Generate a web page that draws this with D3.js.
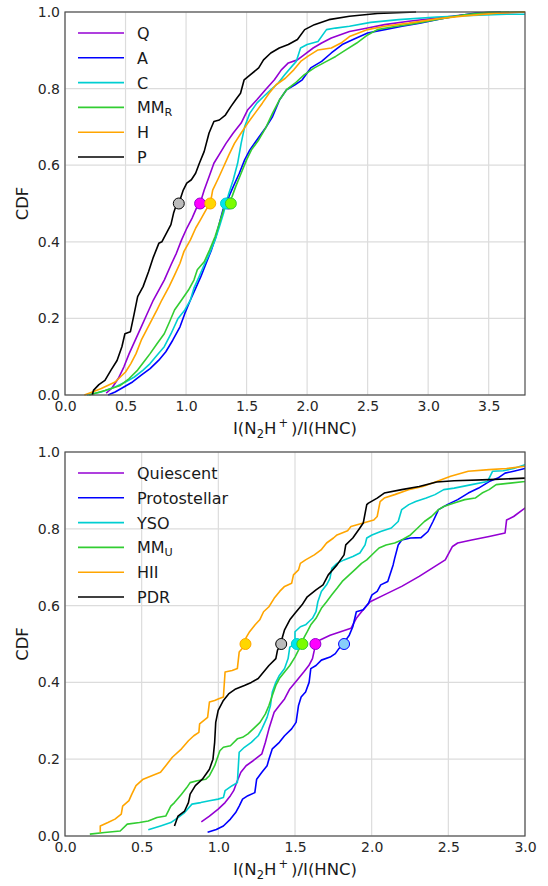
<!DOCTYPE html>
<html>
<head>
<meta charset="utf-8">
<script src="https://cdn.jsdelivr.net/npm/d3@7"></script>
<style>
  body { margin: 0; background: #fff; }
  svg { font-family: "DejaVu Sans", sans-serif; }
</style>
</head>
<body>
<svg id="chart" width="548" height="886"></svg>
<script>
// ---- top panel: Q, A, C, MM_R, H, P  ([ratio, cdf] pairs)
const topQ = [[0.34,0.005],[0.385,0.017],[0.44,0.043],[0.486,0.073],[0.53,0.108],[0.587,0.148],[0.63,0.178],[0.674,0.209],[0.73,0.248],[0.775,0.274],[0.82,0.30],[0.876,0.34],[0.92,0.37],[0.963,0.405],[1.007,0.436],[1.05,0.462],[1.093,0.493],[1.116,0.50],[1.15,0.535],[1.19,0.57],[1.23,0.605],[1.28,0.631],[1.33,0.657],[1.39,0.684],[1.455,0.71],[1.51,0.745],[1.585,0.771],[1.656,0.797],[1.73,0.823],[1.787,0.849],[1.845,0.867],[1.92,0.875],[1.975,0.888],[2.05,0.906],[2.12,0.919],[2.2,0.932],[2.35,0.949],[2.5,0.958],[2.64,0.967],[2.84,0.976],[3.07,0.984],[3.3,0.993],[3.57,0.997],[3.8,1.0]];
const topA = [[0.356,0.0],[0.414,0.008],[0.486,0.021],[0.558,0.034],[0.63,0.052],[0.703,0.069],[0.775,0.091],[0.833,0.113],[0.89,0.143],[0.95,0.178],[0.99,0.213],[1.036,0.248],[1.08,0.279],[1.122,0.309],[1.166,0.344],[1.21,0.379],[1.247,0.414],[1.276,0.449],[1.305,0.484],[1.325,0.498],[1.354,0.518],[1.39,0.544],[1.44,0.579],[1.484,0.614],[1.527,0.64],[1.585,0.666],[1.656,0.697],[1.715,0.727],[1.773,0.771],[1.83,0.797],[1.90,0.81],[1.96,0.823],[2.03,0.854],[2.12,0.871],[2.2,0.893],[2.29,0.915],[2.38,0.928],[2.5,0.945],[2.64,0.954],[2.785,0.963],[2.93,0.971],[3.1,0.982],[3.25,0.99],[3.39,0.997],[3.6,1.0]];
const topC = [[0.18,0.0],[0.30,0.008],[0.414,0.021],[0.50,0.034],[0.573,0.047],[0.645,0.065],[0.703,0.082],[0.76,0.104],[0.82,0.126],[0.876,0.16],[0.934,0.20],[0.99,0.222],[1.036,0.248],[1.065,0.279],[1.108,0.309],[1.15,0.34],[1.195,0.37],[1.24,0.405],[1.276,0.44],[1.31,0.475],[1.33,0.50],[1.354,0.527],[1.39,0.562],[1.426,0.605],[1.455,0.657],[1.484,0.70],[1.527,0.736],[1.585,0.762],[1.643,0.78],[1.70,0.797],[1.76,0.814],[1.815,0.836],[1.874,0.858],[1.91,0.871],[1.946,0.906],[2.0,0.915],[2.09,0.923],[2.16,0.954],[2.235,0.958],[2.35,0.963],[2.525,0.973],[2.757,0.98],[3.07,0.987],[3.36,0.991],[3.65,0.994],[3.8,0.994]];
const topMM = [[0.2,0.0],[0.33,0.012],[0.457,0.025],[0.53,0.043],[0.60,0.065],[0.66,0.09],[0.703,0.108],[0.76,0.134],[0.82,0.16],[0.862,0.19],[0.905,0.222],[0.963,0.248],[1.02,0.274],[1.065,0.30],[1.093,0.327],[1.15,0.348],[1.195,0.379],[1.24,0.414],[1.276,0.449],[1.31,0.484],[1.34,0.498],[1.38,0.518],[1.41,0.544],[1.455,0.579],[1.50,0.614],[1.54,0.64],[1.60,0.666],[1.657,0.697],[1.715,0.736],[1.773,0.771],[1.83,0.797],[1.90,0.814],[1.975,0.836],[2.06,0.854],[2.16,0.871],[2.236,0.884],[2.32,0.901],[2.41,0.919],[2.5,0.94],[2.58,0.954],[2.70,0.961],[2.87,0.969],[3.1,0.982],[3.3,0.993],[3.5,0.999],[3.8,1.0]];
const topH = [[0.16,0.0],[0.226,0.008],[0.30,0.017],[0.414,0.034],[0.50,0.06],[0.544,0.082],[0.587,0.108],[0.63,0.143],[0.674,0.17],[0.717,0.196],[0.76,0.222],[0.80,0.248],[0.86,0.283],[0.905,0.313],[0.95,0.344],[0.983,0.375],[1.036,0.405],[1.08,0.436],[1.12,0.458],[1.166,0.484],[1.20,0.50],[1.22,0.535],[1.267,0.566],[1.31,0.596],[1.354,0.627],[1.40,0.657],[1.455,0.684],[1.51,0.71],[1.57,0.736],[1.63,0.762],[1.686,0.788],[1.744,0.81],[1.82,0.827],[1.89,0.849],[1.947,0.871],[2.005,0.884],[2.09,0.901],[2.2,0.906],[2.28,0.919],[2.35,0.936],[2.5,0.954],[2.64,0.963],[2.84,0.971],[3.07,0.982],[3.3,0.99],[3.57,0.997],[3.8,1.0]];
const topP = [[0.226,0.0],[0.235,0.012],[0.28,0.027],[0.33,0.038],[0.38,0.065],[0.43,0.09],[0.47,0.126],[0.495,0.16],[0.54,0.165],[0.57,0.21],[0.60,0.257],[0.645,0.283],[0.69,0.322],[0.73,0.36],[0.775,0.396],[0.80,0.40],[0.85,0.43],[0.875,0.445],[0.897,0.475],[0.92,0.497],[0.94,0.50],[0.977,0.535],[1.006,0.553],[1.044,0.562],[1.079,0.579],[1.11,0.605],[1.15,0.636],[1.19,0.684],[1.23,0.714],[1.275,0.718],[1.325,0.731],[1.37,0.753],[1.41,0.771],[1.45,0.788],[1.48,0.823],[1.53,0.836],[1.60,0.854],[1.64,0.875],[1.70,0.893],[1.77,0.906],[1.845,0.915],[1.92,0.928],[1.98,0.954],[2.06,0.967],[2.18,0.98],[2.35,0.989],[2.58,0.996],[2.90,1.0]];
const topLabels = ["Q", "A", "C", "MM|R", "H", "P"];
const topMedians = [1.116, 1.35, 1.33, 1.37, 1.20, 0.94];

// ---- bottom panel: Quiescent, Protostellar, YSO, MM_U, HII, PDR
const botQui = [[0.889,0.037],[0.942,0.052],[0.999,0.07],[1.044,0.087],[1.079,0.105],[1.10,0.118],[1.124,0.144],[1.147,0.166],[1.181,0.183],[1.227,0.196],[1.284,0.214],[1.307,0.244],[1.33,0.279],[1.364,0.322],[1.398,0.34],[1.432,0.357],[1.466,0.383],[1.512,0.405],[1.557,0.427],[1.59,0.444],[1.614,0.462],[1.626,0.484],[1.633,0.50],[1.66,0.51],[1.729,0.523],[1.797,0.532],[1.865,0.541],[1.90,0.567],[1.934,0.584],[1.99,0.61],[2.082,0.628],[2.196,0.65],[2.31,0.676],[2.413,0.702],[2.48,0.719],[2.527,0.754],[2.561,0.763],[2.652,0.771],[2.766,0.78],[2.87,0.789],[2.88,0.823],[2.926,0.832],[3.0,0.854],[3.1,0.88]];
const botPro = [[0.93,0.010],[0.987,0.017],[1.033,0.026],[1.079,0.044],[1.113,0.061],[1.136,0.078],[1.158,0.096],[1.193,0.105],[1.238,0.113],[1.25,0.148],[1.284,0.166],[1.318,0.183],[1.33,0.20],[1.352,0.227],[1.398,0.244],[1.432,0.261],[1.478,0.279],[1.507,0.296],[1.523,0.34],[1.54,0.362],[1.569,0.375],[1.592,0.40],[1.603,0.436],[1.637,0.444],[1.672,0.458],[1.729,0.466],[1.763,0.475],[1.786,0.488],[1.82,0.50],[1.831,0.51],[1.854,0.523],[1.877,0.545],[1.90,0.584],[1.945,0.589],[1.979,0.606],[2.002,0.628],[2.036,0.637],[2.059,0.654],[2.105,0.663],[2.14,0.706],[2.15,0.723],[2.173,0.758],[2.196,0.771],[2.253,0.776],[2.322,0.777],[2.367,0.793],[2.40,0.819],[2.436,0.85],[2.493,0.863],[2.561,0.876],[2.63,0.893],[2.698,0.906],[2.766,0.923],[2.823,0.932],[2.87,0.945],[2.926,0.95],[3.0,0.957],[3.1,0.965]];
const botYSO = [[0.543,0.016],[0.623,0.026],[0.69,0.035],[0.737,0.048],[0.78,0.061],[0.828,0.083],[0.885,0.087],[0.942,0.092],[0.999,0.096],[1.033,0.10],[1.044,0.118],[1.09,0.131],[1.124,0.139],[1.136,0.218],[1.17,0.231],[1.215,0.244],[1.26,0.261],[1.284,0.279],[1.318,0.309],[1.34,0.34],[1.352,0.375],[1.375,0.40],[1.398,0.418],[1.432,0.436],[1.455,0.462],[1.466,0.492],[1.50,0.50],[1.50,0.532],[1.535,0.545],[1.569,0.55],[1.59,0.558],[1.614,0.567],[1.637,0.584],[1.649,0.61],[1.672,0.637],[1.706,0.654],[1.728,0.671],[1.74,0.697],[1.774,0.71],[1.82,0.719],[1.877,0.728],[1.923,0.737],[1.957,0.758],[1.968,0.776],[2.002,0.784],[2.059,0.793],[2.128,0.802],[2.173,0.819],[2.196,0.85],[2.242,0.863],[2.287,0.871],[2.356,0.88],[2.413,0.889],[2.47,0.902],[2.538,0.906],[2.652,0.915],[2.755,0.923],[2.789,0.95],[2.857,0.951],[2.926,0.957],[3.0,0.967],[3.1,0.975]];
const botMM = [[0.162,0.005],[0.258,0.009],[0.36,0.013],[0.406,0.031],[0.486,0.035],[0.543,0.039],[0.60,0.048],[0.657,0.052],[0.69,0.078],[0.714,0.087],[0.76,0.109],[0.794,0.126],[0.816,0.139],[0.862,0.144],[0.919,0.148],[0.942,0.157],[0.976,0.183],[1.01,0.222],[1.033,0.231],[1.079,0.235],[1.124,0.253],[1.158,0.257],[1.193,0.266],[1.238,0.283],[1.272,0.296],[1.307,0.318],[1.33,0.34],[1.352,0.366],[1.375,0.392],[1.398,0.41],[1.432,0.427],[1.466,0.444],[1.50,0.466],[1.523,0.484],[1.548,0.50],[1.557,0.515],[1.58,0.532],[1.603,0.55],[1.637,0.567],[1.672,0.593],[1.706,0.61],[1.74,0.628],[1.774,0.645],[1.808,0.663],[1.854,0.68],[1.90,0.697],[1.934,0.71],[1.968,0.719],[2.014,0.737],[2.048,0.75],[2.094,0.758],[2.15,0.763],[2.196,0.771],[2.253,0.784],[2.30,0.802],[2.344,0.819],[2.39,0.832],[2.436,0.85],[2.47,0.858],[2.538,0.867],[2.607,0.876],[2.675,0.88],[2.72,0.893],[2.766,0.902],[2.812,0.915],[2.903,0.919],[3.0,0.923],[3.1,0.93]];
const botHII = [[0.23,0.010],[0.23,0.026],[0.28,0.035],[0.326,0.044],[0.367,0.057],[0.376,0.078],[0.417,0.092],[0.436,0.109],[0.463,0.131],[0.51,0.148],[0.566,0.157],[0.623,0.166],[0.657,0.183],[0.70,0.205],[0.76,0.227],[0.805,0.248],[0.84,0.261],[0.873,0.27],[0.878,0.292],[0.93,0.309],[0.942,0.349],[0.976,0.353],[0.999,0.357],[1.033,0.362],[1.044,0.427],[1.09,0.431],[1.124,0.436],[1.136,0.479],[1.16,0.49],[1.177,0.50],[1.18,0.516],[1.204,0.532],[1.24,0.55],[1.27,0.563],[1.295,0.584],[1.33,0.597],[1.364,0.619],[1.40,0.637],[1.432,0.65],[1.478,0.658],[1.49,0.68],[1.523,0.693],[1.535,0.71],[1.569,0.719],[1.626,0.732],[1.67,0.745],[1.706,0.763],[1.751,0.776],[1.774,0.784],[1.843,0.795],[1.865,0.806],[1.945,0.815],[2.014,0.823],[2.036,0.832],[2.055,0.871],[2.082,0.88],[2.15,0.889],[2.24,0.902],[2.333,0.91],[2.424,0.923],[2.515,0.937],[2.63,0.95],[2.766,0.954],[2.88,0.957],[3.0,0.963],[3.1,0.97]];
const botPDR = [[0.714,0.026],[0.737,0.052],[0.78,0.065],[0.805,0.087],[0.816,0.109],[0.85,0.131],[0.896,0.148],[0.942,0.174],[0.965,0.20],[0.976,0.244],[0.983,0.296],[0.999,0.327],[1.033,0.353],[1.067,0.37],[1.113,0.383],[1.17,0.392],[1.215,0.40],[1.26,0.41],[1.295,0.427],[1.33,0.444],[1.375,0.462],[1.386,0.484],[1.41,0.50],[1.416,0.515],[1.432,0.537],[1.466,0.563],[1.50,0.58],[1.546,0.602],[1.58,0.623],[1.637,0.641],[1.683,0.654],[1.717,0.68],[1.774,0.706],[1.82,0.732],[1.831,0.758],[1.877,0.776],[1.923,0.802],[1.945,0.815],[1.968,0.863],[1.979,0.867],[2.036,0.88],[2.082,0.893],[2.196,0.902],[2.31,0.91],[2.424,0.922],[2.538,0.925],[2.766,0.928],[3.0,0.932],[3.1,0.934]];
const botLabels = ["Quiescent", "Protostellar", "YSO", "MM|U", "HII", "PDR"];
const botMedians = [1.633, 1.82, 1.512, 1.548, 1.177, 1.41];

const xTicksTop = [0, 0.5, 1, 1.5, 2, 2.5, 3, 3.5];
const xTicksBot = [0, 0.5, 1, 1.5, 2, 2.5, 3];
const yTicks = [0, 0.2, 0.4, 0.6, 0.8, 1.0];

const lineColors = ["#9400d3", "#0000ff", "#00ced1", "#32cd32", "#ffa500", "#000000"];
const dotColors = ["#ff00ff", "#87cefa", "#00e5ee", "#7cfc00", "#ffd700", "#bbbbbb"];

const svg = d3.select("#chart");

function addLabelText(sel, label, size) {
  // "MM|R" -> MM with subscript R
  const parts = label.split("|");
  sel.append("tspan").text(parts[0]);
  if (parts[1]) {
    sel.append("tspan").attr("font-size", size * 0.7).attr("dy", 3).text(parts[1]);
  }
}

function drawPanel(id, top, bottom, xmax, xticks, series, labels, medians) {
  const left = 65, right = 525;
  const x = d3.scaleLinear().domain([0, xmax]).range([left, right]);
  const y = d3.scaleLinear().domain([0, 1]).range([bottom, top]);
  const g = svg.append("g");

  g.append("clipPath").attr("id", "clip" + id)
    .append("rect").attr("x", left).attr("y", top - 3)
    .attr("width", right - left).attr("height", bottom - top + 6);

  // grid
  g.append("g").selectAll("line").data(xticks).join("line")
    .attr("x1", d => x(d)).attr("x2", d => x(d))
    .attr("y1", top).attr("y2", bottom)
    .attr("stroke", "#dcdcdc").attr("stroke-width", 1.2);
  g.append("g").selectAll("line").data(yTicks).join("line")
    .attr("x1", left).attr("x2", right)
    .attr("y1", d => y(d)).attr("y2", d => y(d))
    .attr("stroke", "#dcdcdc").attr("stroke-width", 1.2);

  // axes (labels only, no tick marks)
  g.append("g").attr("transform", `translate(0,${bottom})`)
    .call(d3.axisBottom(x).tickValues(xticks).tickFormat(d3.format(".1f")).tickSize(0).tickPadding(6))
    .call(a => a.select(".domain").remove())
    .selectAll("text").attr("font-size", 14).attr("fill", "#262626")
    .attr("font-family", "DejaVu Sans, sans-serif");
  g.append("g").attr("transform", `translate(${left},0)`)
    .call(d3.axisLeft(y).tickValues(yTicks).tickFormat(d3.format(".1f")).tickSize(0).tickPadding(5))
    .call(a => a.select(".domain").remove())
    .selectAll("text").attr("font-size", 14).attr("fill", "#262626")
    .attr("font-family", "DejaVu Sans, sans-serif");

  const line = d3.line().x(d => x(d[0])).y(d => y(d[1]));
  const plot = g.append("g").attr("clip-path", `url(#clip${id})`);
  series.forEach((s, i) => {
    plot.append("path").datum(s).attr("d", line)
      .attr("fill", "none").attr("stroke", lineColors[i])
      .attr("stroke-width", 1.6).attr("stroke-linejoin", "round");
  });
  medians.forEach((m, i) => {
    plot.append("circle").attr("cx", x(m)).attr("cy", y(0.5)).attr("r", 5.5)
      .attr("fill", dotColors[i]).attr("stroke", lineColors[i]).attr("stroke-width", 1);
  });

  // frame
  g.append("rect").attr("x", left).attr("y", top)
    .attr("width", right - left).attr("height", bottom - top)
    .attr("fill", "none").attr("stroke", "#4d4d4d").attr("stroke-width", 1.2);

  // legend
  const leg = g.append("g");
  labels.forEach((lab, i) => {
    const ly = top + 21 + i * 24.8;
    leg.append("line").attr("x1", 78).attr("x2", 124).attr("y1", ly).attr("y2", ly)
      .attr("stroke", lineColors[i]).attr("stroke-width", 1.6);
    const t = leg.append("text").attr("x", 137).attr("y", ly + 6)
      .attr("font-size", 16).attr("fill", "#1a1a1a");
    addLabelText(t, lab, 16);
  });

  // axis titles
  g.append("text").attr("transform", `translate(28,${(top + bottom) / 2}) rotate(-90)`)
    .attr("text-anchor", "middle").attr("font-size", 16.5).attr("fill", "#1a1a1a").text("CDF");
  const xl = g.append("text").attr("x", (left + right) / 2).attr("y", bottom + 39)
    .attr("text-anchor", "middle").attr("font-size", 16.5).attr("fill", "#1a1a1a");
  xl.append("tspan").text("I(N");
  xl.append("tspan").attr("font-size", 11.5).attr("dy", 3.5).text("2");
  xl.append("tspan").attr("dy", -3.5).text("H");
  xl.append("tspan").attr("font-size", 11.5).attr("dx", 2).attr("dy", -7).text("+");
  xl.append("tspan").attr("dx", 3).attr("dy", 7).text(")/I(HNC)");
}

drawPanel("t", 12, 395, 3.8, xTicksTop, [topQ, topA, topC, topMM, topH, topP], topLabels, topMedians);
drawPanel("b", 452, 836, 3.0, xTicksBot, [botQui, botPro, botYSO, botMM, botHII, botPDR], botLabels, botMedians);
</script>
</body>
</html>
